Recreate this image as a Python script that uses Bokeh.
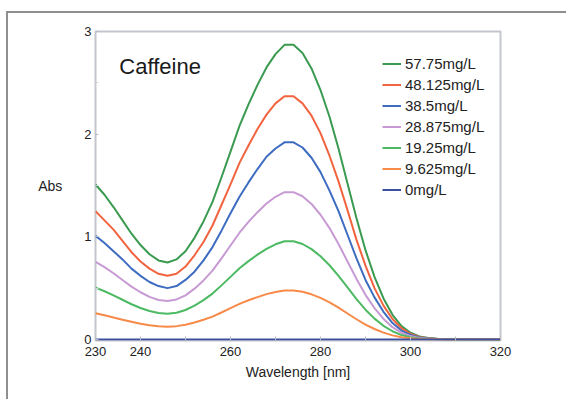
from bokeh.plotting import figure
from bokeh.models import Range1d, FixedTicker, Legend, LegendItem, Label
from bokeh.embed import file_html
from bokeh.resources import INLINE

# ---- data ----
wavelength = [230, 232, 234, 236, 238, 240, 242, 244, 246, 248, 250, 252, 254, 256, 258,
              260, 262, 264, 266, 268, 270, 272, 274, 276, 278, 280, 282, 284, 286, 288,
              290, 292, 294, 296, 298, 300, 302, 304, 306, 308, 310, 315, 320]

abs_57_75 = [1.51, 1.41, 1.29, 1.16, 1.03, 0.92, 0.83, 0.77, 0.75, 0.78, 0.86, 0.99, 1.15, 1.34, 1.58,
             1.83, 2.08, 2.29, 2.48, 2.65, 2.78, 2.87, 2.87, 2.79, 2.64, 2.43, 2.17, 1.86, 1.52, 1.18,
             0.87, 0.61, 0.40, 0.24, 0.13, 0.065, 0.03, 0.014, 0.006, 0.003, 0.001, 0.0, 0.0]
abs_48_125 = [1.25, 1.16, 1.07, 0.96, 0.85, 0.76, 0.69, 0.64, 0.62, 0.64, 0.71, 0.82, 0.95, 1.11, 1.31,
              1.51, 1.72, 1.89, 2.05, 2.19, 2.30, 2.37, 2.37, 2.30, 2.18, 2.01, 1.79, 1.54, 1.26, 0.97,
              0.72, 0.50, 0.33, 0.20, 0.11, 0.054, 0.025, 0.012, 0.005, 0.002, 0.001, 0.0, 0.0]
abs_38_5 = [1.01, 0.94, 0.86, 0.78, 0.69, 0.62, 0.56, 0.52, 0.50, 0.52, 0.58, 0.66, 0.77, 0.90, 1.06,
            1.23, 1.39, 1.53, 1.66, 1.78, 1.86, 1.92, 1.92, 1.87, 1.77, 1.63, 1.45, 1.25, 1.02, 0.79,
            0.58, 0.41, 0.27, 0.16, 0.087, 0.044, 0.02, 0.009, 0.004, 0.002, 0.001, 0.0, 0.0]
abs_28_875 = [0.755, 0.705, 0.645, 0.58, 0.515, 0.46, 0.415, 0.385, 0.375, 0.39, 0.43, 0.495, 0.575, 0.67, 0.79,
              0.915, 1.04, 1.145, 1.24, 1.325, 1.39, 1.435, 1.435, 1.395, 1.32, 1.215, 1.085, 0.93, 0.76, 0.59,
              0.435, 0.305, 0.20, 0.12, 0.065, 0.033, 0.015, 0.007, 0.003, 0.0015, 0.0005, 0.0, 0.0]
abs_19_25 = [0.505, 0.47, 0.43, 0.387, 0.343, 0.307, 0.277, 0.257, 0.25, 0.26, 0.287, 0.33, 0.383, 0.447, 0.527,
             0.61, 0.693, 0.763, 0.827, 0.883, 0.927, 0.957, 0.957, 0.93, 0.88, 0.81, 0.723, 0.62, 0.507, 0.393,
             0.29, 0.203, 0.133, 0.08, 0.043, 0.022, 0.01, 0.005, 0.002, 0.001, 0.0, 0.0, 0.0]
abs_9_625 = [0.255, 0.235, 0.215, 0.193, 0.172, 0.153, 0.138, 0.128, 0.125, 0.13, 0.143, 0.165, 0.192, 0.223, 0.263,
             0.305, 0.347, 0.382, 0.413, 0.442, 0.463, 0.478, 0.478, 0.465, 0.44, 0.405, 0.362, 0.31, 0.253, 0.197,
             0.145, 0.102, 0.067, 0.04, 0.022, 0.011, 0.005, 0.002, 0.001, 0.0, 0.0, 0.0, 0.0]
abs_0 = [0.0, 0.0, 0.0, 0.0, 0.0, 0.0, 0.0, 0.0, 0.0, 0.0, 0.0, 0.0, 0.0, 0.0, 0.0,
         0.0, 0.0, 0.0, 0.0, 0.0, 0.0, 0.0, 0.0, 0.0, 0.0, 0.0, 0.0, 0.0, 0.0, 0.0,
         0.0, 0.0, 0.0, 0.0, 0.0, 0.0, 0.0, 0.0, 0.0, 0.0, 0.0, 0.0, 0.0]

series_labels = ["57.75mg/L", "48.125mg/L", "38.5mg/L", "28.875mg/L", "19.25mg/L", "9.625mg/L", "0mg/L"]
series_values = [abs_57_75, abs_48_125, abs_38_5, abs_28_875, abs_19_25, abs_9_625, abs_0]
series_colors = ["#3a9a50", "#f26440", "#3d6cc0", "#c79ad4", "#4cba62", "#f78a48", "#3c4e9e"]

x_major_ticks = [230, 240, 260, 280, 300, 320]
x_minor_ticks = [250, 270, 290, 310]
y_major_ticks = [0, 1, 2, 3]
y_minor_ticks = [0.5, 1.5, 2.5]

FONT = "Liberation Sans"

p = figure(width=560, height=388, output_backend="svg", toolbar_location=None,
           x_range=Range1d(230, 320), y_range=Range1d(-0.01, 3.0),
           min_border_left=87, min_border_right=68, min_border_top=18, min_border_bottom=61)
# outer picture frame (its left and top edges are visible)
p.styles = {"margin-left": "6px", "margin-top": "11px",
            "border-left": "2px solid #8f8f8f", "border-top": "2px solid #8f8f8f"}
p.background_fill_color = "white"
p.border_fill_color = "white"
p.outline_line_color = "#c3c6cc"
p.outline_line_width = 2
p.grid.visible = False

xa = p.xaxis[0]
xa.ticker = FixedTicker(ticks=x_major_ticks, minor_ticks=x_minor_ticks)
xa.axis_line_color = None
xa.major_tick_in = 4
xa.major_tick_out = 0
xa.minor_tick_in = 4
xa.minor_tick_out = 0
xa.major_tick_line_color = "#b8bcc4"
xa.minor_tick_line_color = "#b8bcc4"
xa.major_label_text_font = FONT
xa.major_label_text_font_size = "13px"
xa.major_label_text_color = "#222222"
xa.major_label_standoff = 6
xa.axis_label = "Wavelength [nm]"
xa.axis_label_text_font = FONT
xa.axis_label_text_font_size = "14px"
xa.axis_label_text_font_style = "normal"
xa.axis_label_text_color = "#222222"
xa.axis_label_standoff = 5

ya = p.yaxis[0]
ya.ticker = FixedTicker(ticks=y_major_ticks, minor_ticks=y_minor_ticks)
ya.axis_line_color = None
ya.major_tick_in = 3
ya.major_tick_out = 0
ya.minor_tick_in = 3
ya.minor_tick_out = 0
ya.major_tick_line_color = "#b8bcc4"
ya.minor_tick_line_color = "#d0d3d8"
ya.major_label_text_font = FONT
ya.major_label_text_font_size = "13px"
ya.major_label_text_color = "#222222"
ya.major_label_text_baseline = "alphabetic"
ya.major_label_standoff = 4
ya.axis_label_orientation = "horizontal"
ya.axis_label = "Abs"
ya.axis_label_text_font = FONT
ya.axis_label_text_font_size = "14px"
ya.axis_label_text_font_style = "normal"
ya.axis_label_text_color = "#222222"
ya.axis_label_standoff = 19

items = []
for name, ys, color in zip(series_labels, series_values, series_colors):
    r = p.line(wavelength, ys, line_color=color, line_width=2, line_join="round")
    items.append(LegendItem(label=name, renderers=[r]))

legend = Legend(items=items, location=(287, 140), orientation="vertical",
                background_fill_alpha=0, border_line_color=None,
                padding=0, margin=0, spacing=0,
                glyph_width=19, glyph_height=21, label_height=21, label_standoff=4,
                label_text_font=FONT, label_text_font_size="15px", label_text_color="#222222")
p.add_layout(legend)

p.add_layout(Label(x=235.3, y=2.66, text="Caffeine", text_font=FONT, text_font_size="22px",
                   text_baseline="middle", text_color="#1a1a1a"))

open("out.html", "w").write(file_html(p, INLINE))
